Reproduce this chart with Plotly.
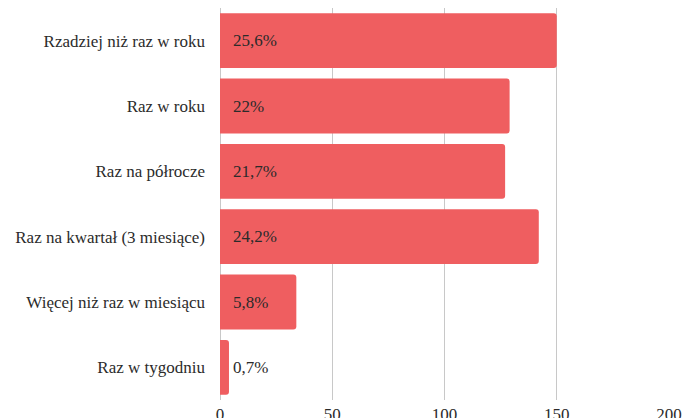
import plotly.graph_objects as go

# Survey answers (top to bottom) with response counts and stated shares
categories = [
    "Rzadziej niż raz w roku",
    "Raz w roku",
    "Raz na półrocze",
    "Raz na kwartał (3 miesiące)",
    "Więcej niż raz w miesiącu",
    "Raz w tygodniu",
]
counts = [150, 129, 127, 142, 34, 4]
shares = ["25,6%", "22%", "21,7%", "24,2%", "5,8%", "0,7%"]
x_ticks = [0, 50, 100, 150, 200]

SERIF = "'Liberation Serif', 'Times New Roman', 'DejaVu Serif', serif"
BAR_COLOR = "#EF5E60"
TEXT_COLOR = "#2b2b2b"

fig = go.Figure(
    go.Bar(
        x=counts,
        y=categories,
        orientation="h",
        marker=dict(color=BAR_COLOR, line=dict(width=0)),
        hoverinfo="x+y",
    )
)

# Share labels sit just right of the zero line for every bar
for cat, share in zip(categories, shares):
    fig.add_annotation(
        x=0, y=cat, text=share, showarrow=False,
        xanchor="left", yanchor="middle", xshift=11,
        font=dict(family=SERIF, size=17, color=TEXT_COLOR),
    )

fig.update_layout(
    width=685,
    height=418,
    margin=dict(l=220, r=16, t=8, b=18),
    paper_bgcolor="white",
    plot_bgcolor="white",
    bargap=0.16,
    barcornerradius=3,
    showlegend=False,
    font=dict(family=SERIF, size=17, color=TEXT_COLOR),
)
fig.update_xaxes(
    range=[0, 200],
    tickvals=x_ticks,
    automargin=False,
    showgrid=True,
    gridcolor="#c8c8c8",
    gridwidth=1,
    zeroline=True,
    zerolinecolor="#c8c8c8",
    zerolinewidth=1,
    showline=False,
    ticks="",
    ticklabelstandoff=2,
    tickfont=dict(family=SERIF, size=17, color=TEXT_COLOR),
)
fig.update_yaxes(
    categoryorder="array",
    categoryarray=categories[::-1],
    automargin=False,
    showgrid=False,
    showline=False,
    ticks="",
    ticklabelstandoff=14,
    tickfont=dict(family=SERIF, size=17, color=TEXT_COLOR),
)

fig.write_html("out.html")
